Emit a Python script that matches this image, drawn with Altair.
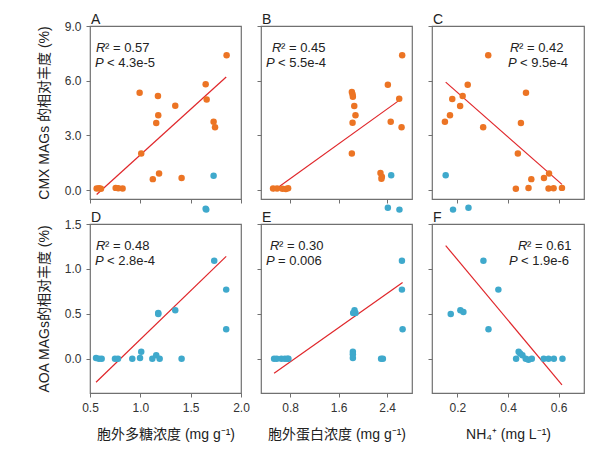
import altair as alt
import pandas as pd

ORANGE = "#EC7424"
BLUE = "#3FA9CC"
RED = "#E0262A"
FONT = "Liberation Sans, Noto Sans CJK SC"

# ---------------- data ----------------
# Panel A: CMX vs extracellular polysaccharide
A_x = [1.857, 1.649, 1.659, 0.993, 1.175, 1.347, 1.178, 1.158, 1.728, 1.742, 1.009,
       1.186, 1.124, 1.410, 0.824, 0.755, 0.781, 0.566, 0.609, 0.590]
A_y = [7.39, 5.80, 4.97, 5.34, 5.16, 4.63, 4.10, 3.68, 3.75, 3.44, 2.01,
       0.91, 0.60, 0.66, 0.09, 0.12, 0.10, 0.08, 0.07, 0.10]
A_bx = [1.728]
A_by = [0.79]
A_fx = [0.566, 1.853]
A_fy = [-0.24, 6.20]

# Panel B: CMX vs extracellular protein
B_x = [2.648, 2.412, 2.599, 1.818, 1.830, 1.835, 1.858, 1.878, 1.830, 2.459, 2.638,
       1.818, 2.290, 2.313, 2.306, 0.519, 0.585, 0.673, 0.729, 0.767]
B_y = [7.39, 5.78, 5.01, 5.38, 5.25, 5.12, 4.61, 4.10, 3.69, 3.75, 3.44,
       2.01, 0.93, 0.73, 0.62, 0.08, 0.08, 0.07, 0.06, 0.10]
B_bx = [2.467]
B_by = [0.81]
B_fx = [0.519, 2.644]
B_fy = [-0.05, 5.03]

# Panel C: CMX vs NH4+
C_x = [0.322, 0.241, 0.471, 0.221, 0.180, 0.211, 0.171, 0.151, 0.302, 0.451, 0.439,
       0.562, 0.542, 0.492, 0.431, 0.481, 0.560, 0.580, 0.613]
C_y = [7.39, 5.78, 5.34, 5.16, 4.99, 4.61, 4.10, 3.75, 3.44, 3.68, 2.01,
       0.91, 0.66, 0.60, 0.07, 0.11, 0.09, 0.10, 0.12]
C_bx = [0.154]
C_by = [0.81]
C_fx = [0.154, 0.613]
C_fy = [5.92, 0.31]

# Panel D: AOA vs extracellular polysaccharide
D_x = [0.560, 0.589, 0.616, 0.748, 0.778, 0.920, 0.997, 1.009, 1.119, 1.158, 1.192,
       1.178, 1.178, 1.347, 1.410, 1.734, 1.853, 1.853, 1.649, 1.655]
D_y = [0.01, 0.00, 0.00, 0.00, 0.00, 0.00, 0.01, 0.08, 0.00, 0.04, 0.00,
       0.51, 0.50, 0.54, 0.00, 1.09, 0.77, 0.33, 1.67, 1.66]
D_fx = [0.560, 1.853]
D_fy = [-0.26, 1.14]

# Panel E: AOA vs extracellular protein
E_x = [0.536, 0.580, 0.656, 0.713, 0.755, 0.772, 1.835, 1.835, 1.835, 1.862, 1.878,
       1.840, 2.300, 2.330, 2.644, 2.644, 2.655, 2.412, 2.603]
E_y = [0.00, 0.00, 0.00, 0.00, 0.00, 0.00, 0.08, 0.05, 0.01, 0.54, 0.51,
       0.51, 0.00, 0.00, 1.09, 0.77, 0.33, 1.68, 1.66]
E_fx = [0.536, 2.655]
E_fy = [-0.16, 0.85]

# Panel F: AOA vs NH4+
F_x = [0.303, 0.362, 0.174, 0.212, 0.224, 0.323, 0.442, 0.448, 0.457, 0.432, 0.470,
       0.481, 0.494, 0.541, 0.560, 0.581, 0.615, 0.183, 0.244]
F_y = [1.09, 0.77, 0.50, 0.54, 0.52, 0.33, 0.08, 0.06, 0.04, 0.00, 0.00,
       -0.01, 0.00, 0.00, 0.00, 0.00, 0.00, 1.66, 1.68]
F_fx = [0.154, 0.613]
F_fy = [1.26, -0.29]

LETTERS = ["A", "B", "C", "D", "E", "F"]
R2_TEXT = ["0.57", "0.45", "0.42", "0.48", "0.30", "0.61"]
P_TEXT = ["< 4.3e-5", "< 5.5e-4", "< 9.5e-4", "< 2.8e-4", "= 0.006", "< 1.9e-6"]

X_TITLES = ["胞外多糖浓度 (mg g⁻¹)", "胞外蛋白浓度 (mg g⁻¹)", "NH₄⁺ (mg L⁻¹)"]
Y_TITLES = ["CMX MAGs 的相对丰度 (%)", "AOA MAGs的相对丰度 (%)"]

X_DOMAINS = [[0.5, 2.0], [0.32, 2.81], [0.1, 0.7]]
X_TICKS = [[0.5, 1.0, 1.5, 2.0], [0.8, 1.6, 2.4], [0.2, 0.4, 0.6]]
Y_DOMAINS = [[-0.49, 9.0], [-0.38, 1.5]]
Y_TICKS = [[0.0, 3.0, 6.0, 9.0], [0.0, 0.5, 1.0, 1.5]]


def panel(idx, xs, ys, group, fx, fy, bx=None, by=None, w=151, h=173,
          r_x=6, p_x=5):
    row, col = divmod(idx, 3)
    pts = pd.DataFrame({"x": xs, "y": ys, "g": [group] * len(xs)})
    if bx:
        pts = pd.concat([pts, pd.DataFrame({"x": bx, "y": by, "g": ["AOA"] * len(bx)})])
    fit = pd.DataFrame({"x": fx, "y": fy})

    xaxis = alt.Axis(values=X_TICKS[col], format=".1f", labels=(row == 1),
                     title=X_TITLES[col] if row == 1 else None)
    yaxis = alt.Axis(values=Y_TICKS[row], format=".1f", labels=(col == 0),
                     title=Y_TITLES[row] if col == 0 else None)
    xenc = alt.X("x:Q", scale=alt.Scale(domain=X_DOMAINS[col], nice=False, zero=False),
                 axis=xaxis)
    yenc = alt.Y("y:Q", scale=alt.Scale(domain=Y_DOMAINS[row], nice=False, zero=False),
                 axis=yaxis)

    points = alt.Chart(pts).mark_circle(size=42, opacity=1).encode(
        x=xenc, y=yenc,
        color=alt.Color("g:N", scale=alt.Scale(domain=["CMX", "AOA"], range=[ORANGE, BLUE]),
                        legend=None),
    )
    line = alt.Chart(fit).mark_line(color=RED, strokeWidth=1.2).encode(x="x:Q", y="y:Q")

    lab = pd.DataFrame({"t": [LETTERS[idx]]})
    letter = alt.Chart(lab).mark_text(align="left", baseline="alphabetic", fontSize=14,
                                      font=FONT, color="#222").encode(
        text="t:N", x=alt.value(1), y=alt.value(-2))

    s = pd.DataFrame({"a": ["R"], "b": ["² = " + R2_TEXT[idx]],
                      "c": ["P"], "d": [P_TEXT[idx]]})
    base = alt.Chart(s)
    kw = dict(align="left", baseline="alphabetic", fontSize=13, font=FONT, color="#222")
    r1 = base.mark_text(fontStyle="italic", **kw).encode(text="a:N", x=alt.value(r_x), y=alt.value(26))
    r2 = base.mark_text(**kw).encode(text="b:N", x=alt.value(r_x + 9), y=alt.value(26))
    p1 = base.mark_text(fontStyle="italic", **kw).encode(text="c:N", x=alt.value(p_x), y=alt.value(41))
    p2 = base.mark_text(**kw).encode(text="d:N", x=alt.value(p_x + 12), y=alt.value(41))

    return alt.layer(line, points, letter, r1, r2, p1, p2).properties(width=w, height=h)


pA = panel(0, A_x, A_y, "CMX", A_fx, A_fy, A_bx, A_by, r_x=6, p_x=5)
pB = panel(1, B_x, B_y, "CMX", B_fx, B_fy, B_bx, B_by, r_x=11, p_x=5)
pC = panel(2, C_x, C_y, "CMX", C_fx, C_fy, C_bx, C_by, w=152, r_x=78, p_x=76)
pD = panel(3, D_x, D_y, "AOA", D_fx, D_fy, h=169, r_x=6, p_x=5)
pE = panel(4, E_x, E_y, "AOA", E_fx, E_fy, h=169, r_x=9, p_x=5)
pF = panel(5, F_x, F_y, "AOA", F_fx, F_fy, w=152, h=169, r_x=86, p_x=77)

chart = alt.concat(pA, pB, pC, pD, pE, pF, columns=3,
                   spacing=alt.RowColnumber(row=25, column=20), bounds="flush").configure_view(
    stroke="#707070", strokeWidth=1.2
).configure_axis(
    grid=False, domain=False, tickColor="#707070", tickSize=4, tickWidth=1,
    labelFont=FONT, labelFontSize=12, labelColor="#333", labelPadding=5, labelFlush=False,
    titleFont=FONT, titleFontSize=14, titleFontWeight="normal", titleColor="#222",
).configure_axisX(titlePadding=14).configure_axisY(titlePadding=13).properties(
    padding={"left": 28, "top": 4, "right": 5, "bottom": 5}
)

chart.save("out.html", embed_options={"renderer": "svg", "actions": False})
